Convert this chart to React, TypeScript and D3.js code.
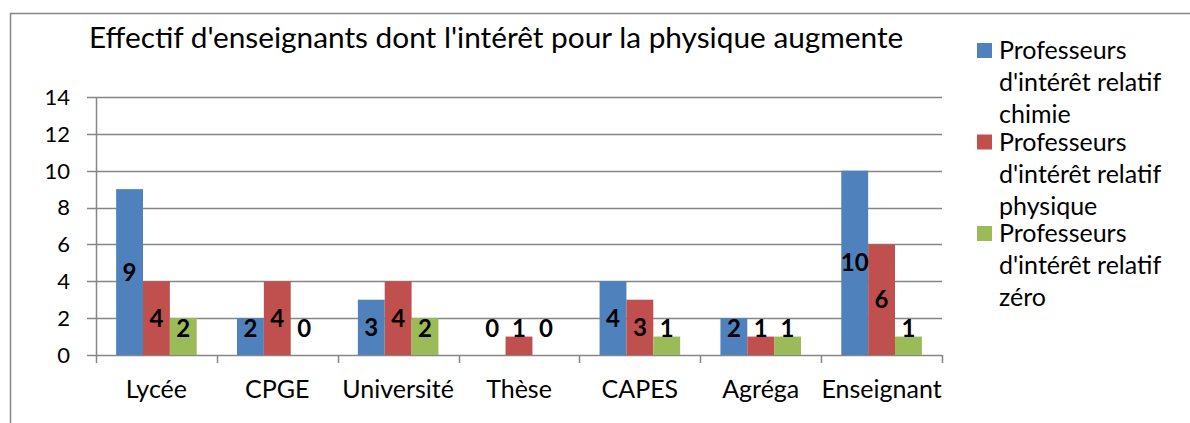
import * as d3 from "d3";
import { useEffect, useRef } from "react";

const categories = ["Lycée", "CPGE", "Université", "Thèse", "CAPES", "Agréga", "Enseignant"];
const chimie = [9, 2, 3, 0, 4, 2, 10];
const physique = [4, 4, 4, 1, 3, 1, 6];
const zero = [2, 0, 2, 0, 1, 1, 1];
const seriesNames = [
  ["Professeurs", "d'intérêt relatif", "chimie"],
  ["Professeurs", "d'intérêt relatif", "physique"],
  ["Professeurs", "d'intérêt relatif", "zéro"],
];
const yTicks = [0, 2, 4, 6, 8, 10, 12, 14];
const title = "Effectif d'enseignants dont l'intérêt pour la physique augmente";

export default function App() {
  const ref = useRef<SVGSVGElement>(null);

  useEffect(() => {
    const svg = d3.select(ref.current);
    svg.selectAll("*").remove();

    const width = 1190;
    const height = 423;
    const margin = { top: 97, right: 248, bottom: 68, left: 96 };
    const font = "Lato, 'Open Sans', sans-serif";
    const grey = "#868686";
    const colors = ["#4F81BD", "#C0504D", "#9BBB59"];
    const series = [chimie, physique, zero];

    svg.attr("width", width).attr("height", height);

    // chart frame
    svg.append("rect")
      .attr("x", 10.5).attr("y", 13.5)
      .attr("width", 1200).attr("height", 430)
      .attr("fill", "white").attr("stroke", grey).attr("stroke-width", 1.5);

    const x0 = d3.scaleBand()
      .domain(categories)
      .range([margin.left, width - margin.right]);

    const bw = x0.bandwidth();
    const barW = bw / 4.5;
    const x1 = d3.scaleBand<number>()
      .domain([0, 1, 2])
      .range([barW * 0.75, bw - barW * 0.75]);

    const y = d3.scaleLinear()
      .domain([0, 14])
      .range([height - margin.bottom, margin.top]);

    // gridlines
    svg.append("g")
      .selectAll("line")
      .data(yTicks)
      .join("line")
      .attr("x1", margin.left - 9)
      .attr("x2", width - margin.right)
      .attr("y1", d => Math.round(y(d)) + 0.5)
      .attr("y2", d => Math.round(y(d)) + 0.5)
      .attr("stroke", grey)
      .attr("stroke-width", 1.5);

    svg.append("g")
      .selectAll("text")
      .data(yTicks)
      .join("text")
      .attr("x", 70)
      .attr("y", d => y(d))
      .attr("dy", "0.36em")
      .attr("text-anchor", "end")
      .attr("font-family", font)
      .attr("font-size", 22)
      .text(d => d);

    // bars
    const groups = svg.append("g")
      .selectAll("g")
      .data(categories)
      .join("g")
      .attr("transform", d => `translate(${x0(d)},0)`);

    groups.selectAll("rect")
      .data((d, i) => series.map((s, k) => ({ k, v: s[i] })))
      .join("rect")
      .attr("x", d => x1(d.k)!)
      .attr("y", d => y(d.v))
      .attr("width", x1.bandwidth())
      .attr("height", d => y(0) - y(d.v))
      .attr("fill", d => colors[d.k]);

    groups.selectAll("text")
      .data((d, i) => series.map((s, k) => ({ k, v: s[i] })))
      .join("text")
      .attr("x", d => x1(d.k)! + x1.bandwidth() / 2)
      .attr("y", d => Math.min((y(d.v) + y(0)) / 2, y(0) - 27))
      .attr("dy", "0.36em")
      .attr("text-anchor", "middle")
      .attr("font-family", font)
      .attr("font-weight", "bold")
      .attr("font-size", 24)
      .text(d => d.v);

    // axes
    const axisY = y(0);
    svg.append("line")
      .attr("x1", margin.left + 0.5).attr("x2", margin.left + 0.5)
      .attr("y1", margin.top).attr("y2", axisY)
      .attr("stroke", grey).attr("stroke-width", 1.5);

    const bounds = categories.map(c => x0(c)!).concat([width - margin.right]);
    svg.append("g")
      .selectAll("line")
      .data(bounds)
      .join("line")
      .attr("x1", d => Math.round(d) + 0.5)
      .attr("x2", d => Math.round(d) + 0.5)
      .attr("y1", axisY)
      .attr("y2", axisY + 8)
      .attr("stroke", grey)
      .attr("stroke-width", 1.5);

    svg.append("g")
      .selectAll("text")
      .data(categories)
      .join("text")
      .attr("x", d => x0(d)! + bw / 2)
      .attr("y", 398)
      .attr("text-anchor", "middle")
      .attr("font-family", font)
      .attr("font-size", 25)
      .text(d => d);

    // title
    svg.append("text")
      .attr("x", 89)
      .attr("y", 48)
      .attr("font-family", font)
      .attr("font-size", 29.8)
      .text(title);

    // legend
    const legend = svg.append("g")
      .selectAll("g")
      .data(seriesNames)
      .join("g")
      .attr("transform", (d, i) => `translate(977,${43 + i * 91.5})`);

    legend.append("rect")
      .attr("width", 15).attr("height", 15)
      .attr("fill", (d, i) => colors[i]);

    legend.append("text")
      .attr("font-family", font)
      .attr("font-size", 25)
      .selectAll("tspan")
      .data(d => d)
      .join("tspan")
      .attr("x", 22)
      .attr("y", (d, j) => 16 + j * 32)
      .text(d => d);
  }, []);

  return (
    <svg ref={ref} style={{ position: "absolute", left: 0, top: 0 }}></svg>
  );
}
